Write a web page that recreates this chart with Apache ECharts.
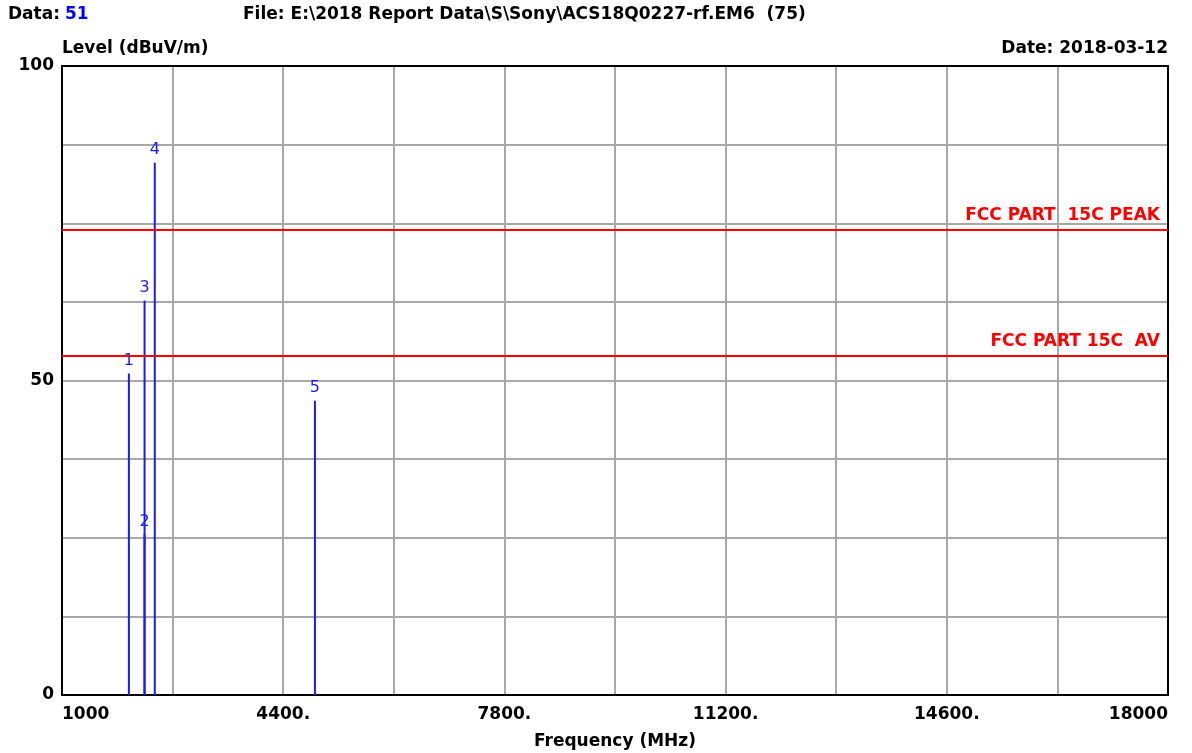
<!DOCTYPE html>
<html>
<head>
<meta charset="utf-8">
<script src="https://cdn.jsdelivr.net/npm/echarts@6/dist/echarts.min.js"></script>
<style>
html,body{margin:0;padding:0;background:#fff;}
#chart{width:1192px;height:753px;}
</style>
</head>
<body>
<div id="chart"></div>
<script>
// ---- data ----
const markerIds = ['1', '2', '3', '4', '5'];
const markerFreqs = [2028, 2269, 2269, 2426, 4888];      // MHz
const markerLevels = [51.1, 25.5, 62.7, 84.6, 46.8];      // dBuV/m
const peakLimit = 74;
const avLimit = 54;
const peakLimitName = 'FCC PART  15C PEAK';
const avLimitName = 'FCC PART 15C  AV';
const xTickLabels = ['1000', '4400.', '7800.', '11200.', '14600.', '18000'];
const yTickLabels = ['0', '50', '100'];
const freqMin = 1000, freqMax = 18000;

const FONT = 'DejaVu Sans';
const chart = echarts.init(document.getElementById('chart'), null, {renderer: 'canvas'});

const option = {
  animation: false,
  backgroundColor: '#fff',
  title: [
    {
      text: '{a|Data:} {b|51}', left: 8, top: 6, padding: 0,
      textStyle: {
        rich: {
          a: {fontFamily: FONT, fontWeight: 'bold', fontSize: 17, color: '#000'},
          b: {fontFamily: FONT, fontWeight: 'bold', fontSize: 17, color: '#0000ff'}
        }
      }
    },
    {
      text: 'File: E:\\2018 Report Data\\S\\Sony\\ACS18Q0227-rf.EM6  (75)', left: 243, top: 6, padding: 0,
      textStyle: {fontFamily: FONT, fontWeight: 'bold', fontSize: 17, color: '#000'}
    },
    {
      text: 'Level (dBuV/m)', left: 62, top: 40, padding: 0,
      textStyle: {fontFamily: FONT, fontWeight: 'bold', fontSize: 17, color: '#000'}
    },
    {
      text: 'Date: 2018-03-12', right: 24, top: 40, padding: 0,
      textStyle: {fontFamily: FONT, fontWeight: 'bold', fontSize: 17, color: '#000'}
    }
  ],
  grid: {
    left: 62, right: 24, top: 66, bottom: 58,
    outerBoundsMode: 'none', containLabel: false,
    show: true, borderColor: '#000', borderWidth: 2, backgroundColor: '#fff'
  },
  xAxis: [
    {
      type: 'value', min: freqMin, max: freqMax,
      show: false
    },
    {
      type: 'value', min: 0, max: freqMax - freqMin, interval: 1700,
      position: 'bottom',
      axisLine: {show: true, lineStyle: {color: '#000', width: 2}},
      axisTick: {show: false},
      splitLine: {show: true, lineStyle: {color: '#a8a8a8', width: 2}},
      axisLabel: {
        show: true, margin: 11,
        fontFamily: FONT, fontWeight: 'bold', fontSize: 17, color: '#000',
        alignMinLabel: 'left', alignMaxLabel: 'right',
        formatter: function (v) {
          const k = Math.round(v / 1700);
          if (k % 2 === 0) return xTickLabels[k / 2];
          return '';
        }
      },
      name: 'Frequency (MHz)', nameLocation: 'middle', nameGap: 38,
      nameTextStyle: {fontFamily: FONT, fontWeight: 'bold', fontSize: 17, color: '#000'}
    },
    {
      type: 'value', min: 0, max: freqMax - freqMin,
      position: 'top',
      axisLine: {show: true, onZero: false, lineStyle: {color: '#000', width: 2}},
      axisTick: {show: false}, axisLabel: {show: false}, splitLine: {show: false}
    }
  ],
  yAxis: [
    {
      type: 'value', min: 0, max: 100, interval: 12.5,
      axisLine: {show: true, lineStyle: {color: '#000', width: 2}},
      axisTick: {show: false},
      splitLine: {show: true, lineStyle: {color: '#a8a8a8', width: 2}},
      axisLabel: {
        margin: 8,
        fontFamily: FONT, fontWeight: 'bold', fontSize: 17, color: '#000',
        formatter: function (v) {
          const idx = [0, 50, 100].indexOf(v);
          return idx >= 0 ? yTickLabels[idx] : '';
        }
      }
    },
    {
      type: 'value', min: 0, max: 100,
      position: 'right',
      axisLine: {show: true, onZero: false, lineStyle: {color: '#000', width: 2}},
      axisTick: {show: false}, axisLabel: {show: false}, splitLine: {show: false}
    }
  ],
  series: [
    {
      type: 'bar', xAxisIndex: 0, yAxisIndex: 0,
      barWidth: 2,
      itemStyle: {color: '#1a1aff'},
      data: markerFreqs.map((f, i) => [f, markerLevels[i]]),
      label: {
        show: true, position: 'top', distance: 5,
        fontFamily: FONT, fontSize: 16, color: '#1a1aff',
        formatter: function (p) { return markerIds[p.dataIndex]; }
      },
      markLine: {
        silent: true, symbol: 'none',
        lineStyle: {color: '#ff0000', width: 2, type: 'solid'},
        label: {
          show: true, position: 'insideEndTop', distance: [8, 5],
          fontFamily: FONT, fontWeight: 'bold', fontSize: 17, color: '#ff0000',
          formatter: function (p) { return p.name; }
        },
        data: [
          {yAxis: peakLimit, name: peakLimitName},
          {yAxis: avLimit, name: avLimitName}
        ]
      }
    }
  ]
};
chart.setOption(option);
</script>
</body>
</html>
